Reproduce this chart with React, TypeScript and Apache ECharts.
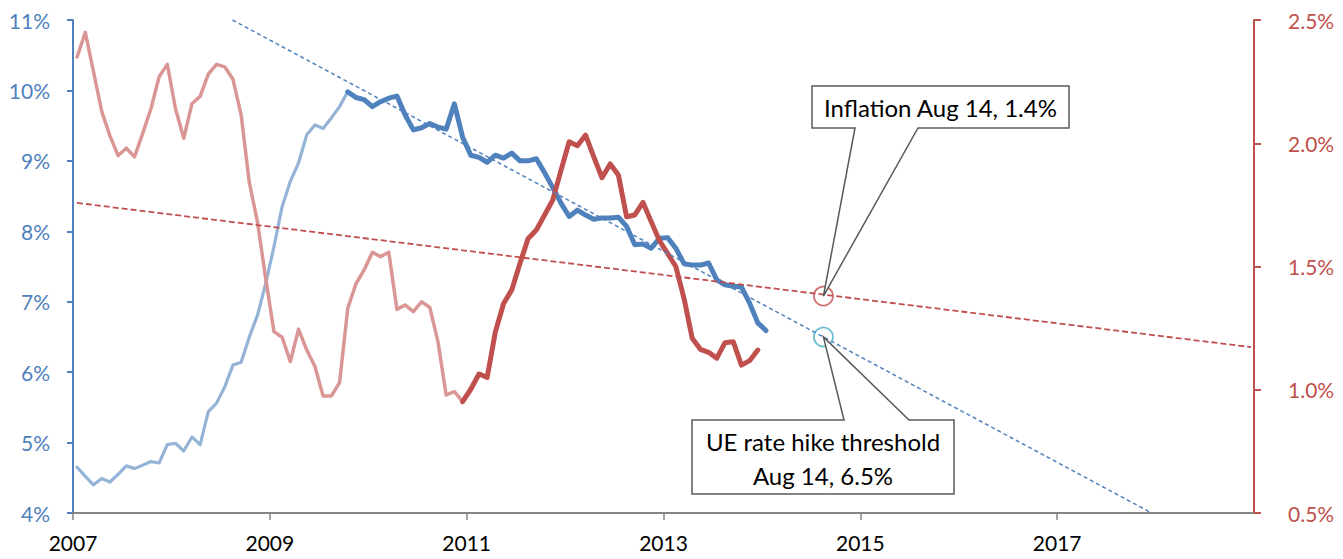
import React, { useEffect, useRef } from "react";
import * as echarts from "echarts";

// Monthly data, first month = Jan 2007
const START_YEAR = 2007;
// Unemployment rate (%), Jan 2007 .. Jan 2014
const ueRate = [
  4.65, 4.52, 4.40, 4.49, 4.44, 4.55, 4.67, 4.63, 4.68, 4.73, 4.71, 4.97,
  4.99, 4.88, 5.08, 4.97, 5.44, 5.56, 5.79, 6.10, 6.14, 6.50, 6.81, 7.26,
  7.78, 8.35, 8.71, 8.97, 9.37, 9.51, 9.46, 9.61, 9.77, 9.98, 9.90, 9.87,
  9.77, 9.84, 9.89, 9.92, 9.65, 9.44, 9.47, 9.53, 9.48, 9.45, 9.81, 9.34,
  9.08, 9.05, 8.98, 9.08, 9.04, 9.11, 9.00, 9.00, 9.03, 8.83, 8.62, 8.40,
  8.21, 8.30, 8.23, 8.17, 8.19, 8.19, 8.20, 8.07, 7.81, 7.82, 7.76, 7.90,
  7.91, 7.76, 7.54, 7.52, 7.52, 7.55, 7.31, 7.24, 7.22, 7.21, 6.98, 6.70,
  6.59,
];
// Inflation (%), Jan 2007 .. Dec 2013
const inflation = [
  2.35, 2.45, 2.29, 2.13, 2.03, 1.95, 1.98, 1.945, 2.04, 2.14, 2.27, 2.32,
  2.14, 2.02, 2.16, 2.19, 2.28, 2.32, 2.31, 2.26, 2.115, 1.84, 1.68, 1.45,
  1.236, 1.213, 1.114, 1.246, 1.161, 1.094, 0.975, 0.975, 1.029, 1.33, 1.43, 1.486,
  1.558, 1.54, 1.558, 1.326, 1.344, 1.317, 1.357, 1.334, 1.195, 0.979, 0.992, 0.952,
  1.002, 1.064, 1.05, 1.235, 1.35, 1.405, 1.513, 1.614, 1.648, 1.709, 1.77, 1.89,
  2.006, 1.99, 2.033, 1.945, 1.86, 1.916, 1.871, 1.702, 1.709, 1.76, 1.682, 1.605,
  1.553, 1.50, 1.371, 1.209, 1.164, 1.152, 1.128, 1.191, 1.195, 1.10, 1.118, 1.161,
];
const UE_DARK_FROM = 33; // Oct 2009
const INF_DARK_FROM = 47; // Dec 2010

// Trend lines [year, value]
const ueTrend = [
  [2008.62, 11.0],
  [2017.96, 4.0],
];
const infTrend = [
  [2007.04, 1.758],
  [2018.97, 1.173],
];
// Highlighted points (Aug 2014)
const ueMarker = [2014.625, 6.5];
const infMarker = [2014.625, 1.38];
const infLabel = "Inflation Aug 14, 1.4%";
const ueLabel1 = "UE rate hike threshold";
const ueLabel2 = "Aug 14, 6.5%";

const X_MIN = 2007;
const X_MAX = 2019;
const X_STEP = 2;
const L_MIN = 4, L_MAX = 11, L_STEP = 1;
const R_MIN = 0.5, R_MAX = 2.5, R_STEP = 0.5;

const monthX = (i: number) => START_YEAR + (i + 0.5) / 12;

const FONT = "Lato, 'Open Sans', sans-serif";
const BLUE = "#4F81BD";
const LBLUE = "#95B3D7";
const RED = "#C0504D";
const LRED = "#DA9694";
const TEAL = "#4BACC6";
const GREY = "#595959";

export default function App() {
  const ref = useRef<HTMLDivElement>(null);
  useEffect(() => {
    document.body.style.margin = "0";
    const chart = echarts.init(ref.current!, undefined, { renderer: "svg" });
    const lineS = (name: string, data: number[][], color: string, width: number, yAxisIndex: number, z: number) => ({
      name,
      type: "line",
      data,
      yAxisIndex,
      showSymbol: false,
      symbol: "none",
      z,
      lineStyle: { color, width, cap: "round", join: "round" },
    });
    chart.setOption({
      animation: false,
      grid: { left: 73, right: 89, top: 20, bottom: 46, containLabel: false, outerBoundsMode: "none" },
      xAxis: {
        type: "value",
        min: X_MIN,
        max: X_MAX,
        interval: X_STEP,
        splitLine: { show: false },
        axisLine: { show: true, lineStyle: { color: "#868686", width: 2 } },
        axisTick: { show: true, length: 7, lineStyle: { color: "#868686", width: 1.5 } },
        axisLabel: {
          color: "#000",
          fontFamily: FONT,
          fontSize: 21,
          margin: 19,
          showMaxLabel: false,
          formatter: (v: number) => String(v),
        },
      },
      yAxis: [
        {
          type: "value",
          min: L_MIN,
          max: L_MAX,
          interval: L_STEP,
          splitLine: { show: false },
          axisLine: { show: true, lineStyle: { color: BLUE, width: 2 } },
          axisTick: { show: true, length: 6, lineStyle: { color: BLUE, width: 2 } },
          axisLabel: { color: BLUE, fontFamily: FONT, fontSize: 21, margin: 23, formatter: (v: number) => v + "%" },
        },
        {
          type: "value",
          position: "right",
          min: R_MIN,
          max: R_MAX,
          interval: R_STEP,
          splitLine: { show: false },
          axisLine: { show: true, lineStyle: { color: RED, width: 2 } },
          axisTick: { show: true, length: 7, lineStyle: { color: RED, width: 2 } },
          axisLabel: { color: RED, fontFamily: FONT, fontSize: 21, margin: 34, formatter: (v: number) => v.toFixed(1) + "%" },
        },
      ],
      series: [
        lineS("UE early", ueRate.slice(0, UE_DARK_FROM + 1).map((v, i) => [monthX(i), v]), LBLUE, 3.2, 0, 2),
        lineS("Inflation early", inflation.slice(0, INF_DARK_FROM + 1).map((v, i) => [monthX(i), v]), LRED, 3.5, 1, 2),
        lineS("UE", ueRate.slice(UE_DARK_FROM).map((v, i) => [monthX(i + UE_DARK_FROM), v]), BLUE, 5, 0, 3),
        lineS("Inflation", inflation.slice(INF_DARK_FROM).map((v, i) => [monthX(i + INF_DARK_FROM), v]), RED, 5, 1, 3),
        {
          name: "UE trend",
          type: "line",
          data: ueTrend,
          yAxisIndex: 0,
          showSymbol: false,
          symbol: "none",
          z: 4,
          lineStyle: { color: BLUE, width: 1.5, type: [4, 3] },
        },
        {
          name: "Inflation trend",
          type: "line",
          data: infTrend,
          yAxisIndex: 1,
          showSymbol: false,
          symbol: "none",
          z: 4,
          lineStyle: { color: RED, width: 1.8, type: [6, 3] },
        },
        {
          name: "UE threshold",
          type: "scatter",
          data: [ueMarker],
          yAxisIndex: 0,
          symbol: "circle",
          symbolSize: 19,
          z: 5,
          itemStyle: { color: "transparent", borderColor: TEAL, borderWidth: 1.8 },
        },
        {
          name: "Inflation point",
          type: "scatter",
          data: [infMarker],
          yAxisIndex: 1,
          symbol: "circle",
          symbolSize: 19,
          z: 5,
          itemStyle: { color: "transparent", borderColor: RED, borderWidth: 1.8 },
        },
      ],
    });

    const ueTip = chart.convertToPixel({ xAxisIndex: 0, yAxisIndex: 0 }, ueMarker) as number[];
    const infTip = chart.convertToPixel({ xAxisIndex: 0, yAxisIndex: 1 }, infMarker) as number[];
    const textStyle = (text: string, x: number, y: number) => ({
      text,
      x,
      y,
      fill: "#000",
      font: `24px ${FONT}`,
      textAlign: "center",
      textVerticalAlign: "middle",
      align: "center",
      verticalAlign: "middle",
    });
    chart.setOption({
      graphic: [
        {
          type: "polygon",
          z: 100,
          shape: {
            points: [
              [812, 86], [1069, 86], [1069, 128], [918, 128], infTip, [855, 128], [812, 128],
            ],
          },
          style: { fill: "#fff", stroke: GREY, lineWidth: 1.5 },
        },
        { type: "text", z: 101, style: textStyle(infLabel, 940.5, 107) },
        {
          type: "polygon",
          z: 100,
          shape: {
            points: [
              [692, 420], [844, 420], ueTip, [909, 420], [954, 420], [954, 494], [692, 494],
            ],
          },
          style: { fill: "#fff", stroke: GREY, lineWidth: 1.5 },
        },
        { type: "text", z: 101, style: textStyle(ueLabel1, 823, 441) },
        { type: "text", z: 101, style: textStyle(ueLabel2, 823, 475) },
      ],
    });
    return () => chart.dispose();
  }, []);
  return <div ref={ref} style={{ position: "absolute", left: 0, top: 0, width: 1343, height: 559 }} />;
}
